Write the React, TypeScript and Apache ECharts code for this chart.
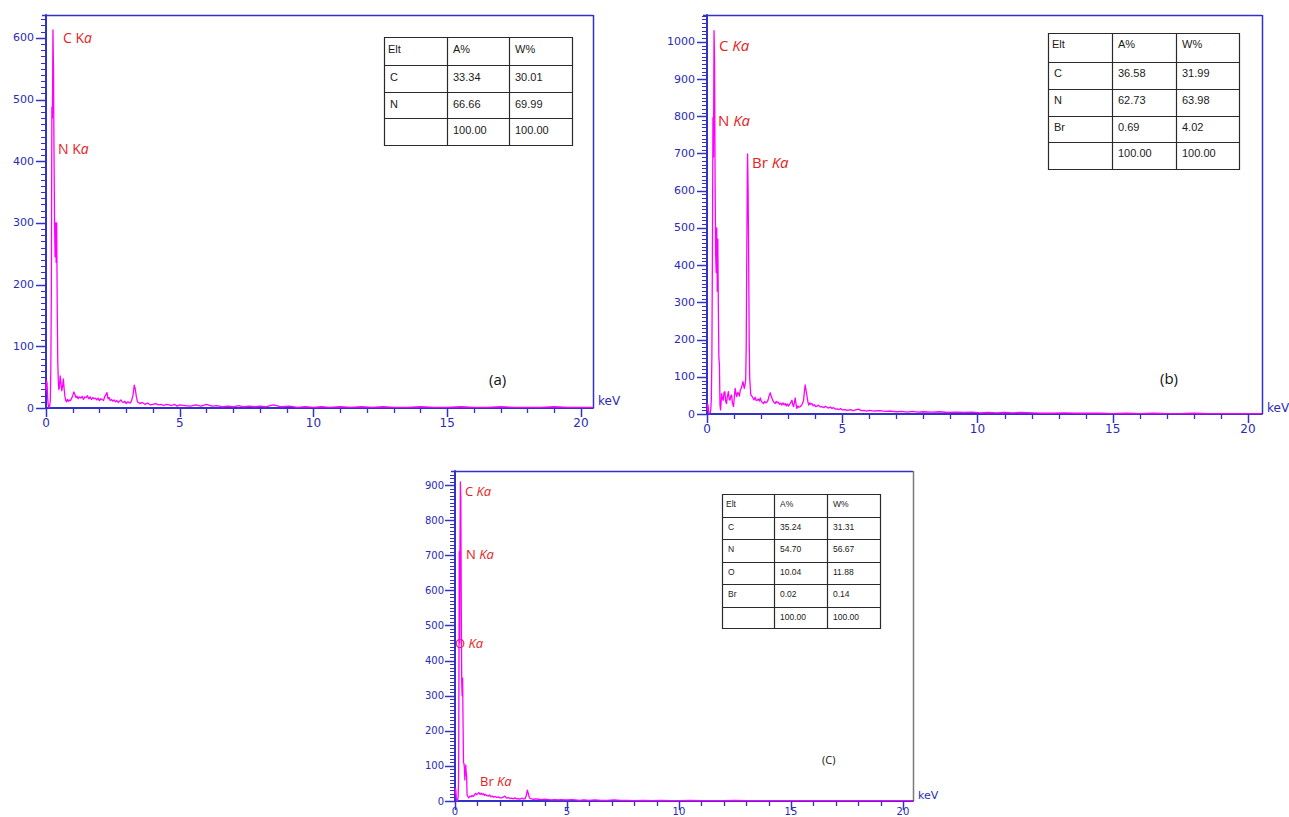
import React, { useEffect, useRef } from "react";
import * as echarts from "echarts";

// ---------- tick labels ----------
const xTickValues = [0, 5, 10, 15, 20];
const xMinorTicks = [1, 2, 3, 4, 6, 7, 8, 9, 11, 12, 13, 14, 16, 17, 18, 19];
const yTicksA = [0, 100, 200, 300, 400, 500, 600];
const yTicksB = [0, 100, 200, 300, 400, 500, 600, 700, 800, 900, 1000];
const yTicksC = [0, 100, 200, 300, 400, 500, 600, 700, 800, 900];

// ---------- spectra [keV, counts] ----------
const spectrumA: [number, number][] = [
  [0.0, 28], [0.02, 44], [0.04, 40], [0.06, 18], [0.08, 6], [0.1, 2], [0.12, 1], [0.14, 4], [0.16, 12], [0.18, 60],
  [0.2, 190], [0.22, 488], [0.24, 470], [0.26, 613], [0.28, 548], [0.3, 410], [0.32, 300], [0.34, 245], [0.36, 300], [0.38, 236],
  [0.4, 300], [0.42, 160], [0.44, 75], [0.46, 45], [0.48, 30], [0.5, 33], [0.53, 52], [0.56, 40], [0.59, 28], [0.62, 35],
  [0.65, 47], [0.68, 30], [0.71, 18], [0.74, 12], [0.77, 10], [0.8, 14], [0.84, 11], [0.88, 13], [0.92, 12], [0.96, 16],
  [1.0, 20], [1.04, 26], [1.08, 22], [1.12, 17], [1.16, 19], [1.2, 15], [1.25, 18], [1.3, 16], [1.35, 19], [1.4, 14],
  [1.45, 18], [1.5, 17], [1.55, 20], [1.6, 15], [1.65, 18], [1.7, 14], [1.75, 17], [1.8, 15], [1.85, 16], [1.9, 13],
  [1.95, 16], [2.0, 12], [2.05, 15], [2.1, 14], [2.15, 12], [2.2, 19], [2.25, 22], [2.28, 25], [2.32, 15], [2.36, 17],
  [2.4, 12], [2.45, 14], [2.5, 11], [2.55, 13], [2.6, 10], [2.65, 12], [2.7, 9], [2.75, 11], [2.8, 13], [2.85, 10],
  [2.9, 9], [2.95, 11], [3.0, 7], [3.05, 10], [3.1, 9], [3.15, 8], [3.2, 12], [3.25, 20], [3.3, 37], [3.34, 30],
  [3.38, 18], [3.42, 10], [3.46, 9], [3.5, 7], [3.6, 9], [3.7, 6], [3.8, 8], [3.9, 5], [4.0, 6], [4.1, 7],
  [4.2, 5], [4.3, 6], [4.4, 4], [4.5, 6], [4.6, 5], [4.7, 4], [4.8, 6], [4.9, 3], [5.0, 5], [5.2, 4],
  [5.4, 3], [5.6, 5], [5.8, 3], [6.0, 6], [6.2, 3], [6.4, 4], [6.6, 2], [6.8, 3], [7.0, 2], [7.2, 4],
  [7.4, 2], [7.6, 3], [7.8, 2], [8.0, 3], [8.2, 2], [8.5, 5], [8.8, 2], [9.1, 3], [9.4, 1], [9.7, 2],
  [10.0, 1], [10.3, 2], [10.6, 1], [11.0, 2], [11.4, 1], [11.8, 2], [12.2, 1], [12.6, 2], [13.0, 1], [13.5, 1],
  [14.0, 2], [14.5, 1], [15.0, 1], [15.5, 2], [16.0, 1], [16.5, 1], [17.0, 2], [17.5, 1], [18.0, 1], [18.5, 1],
  [19.0, 2], [19.5, 1], [20.0, 1], [20.45, 1],
];

const spectrumB: [number, number][] = [
  [0.0, 8], [0.02, 27], [0.04, 22], [0.06, 5], [0.08, 1], [0.1, 2], [0.12, 4], [0.14, 12], [0.16, 40], [0.18, 150],
  [0.2, 420], [0.22, 796], [0.24, 690], [0.26, 1030], [0.28, 949], [0.3, 620], [0.32, 430], [0.34, 380], [0.36, 500], [0.38, 330],
  [0.4, 470], [0.42, 280], [0.44, 150], [0.46, 132], [0.48, 25], [0.5, 11], [0.52, 30], [0.54, 55], [0.57, 42], [0.6, 37],
  [0.63, 58], [0.66, 60], [0.69, 35], [0.72, 28], [0.75, 45], [0.79, 60], [0.82, 40], [0.85, 37], [0.88, 48], [0.91, 51],
  [0.94, 30], [0.98, 20], [1.01, 45], [1.04, 69], [1.07, 55], [1.1, 47], [1.14, 58], [1.17, 55], [1.2, 48], [1.23, 64],
  [1.27, 70], [1.3, 78], [1.33, 87], [1.36, 75], [1.38, 69], [1.41, 80], [1.43, 91], [1.45, 180], [1.47, 420], [1.49, 640],
  [1.5, 699], [1.52, 602], [1.54, 420], [1.56, 200], [1.58, 95], [1.6, 72], [1.62, 51], [1.66, 48], [1.7, 43], [1.74, 38],
  [1.78, 45], [1.82, 36], [1.85, 37], [1.9, 40], [1.94, 35], [1.97, 43], [2.01, 34], [2.05, 31], [2.09, 28], [2.13, 34],
  [2.17, 30], [2.22, 32], [2.26, 38], [2.3, 50], [2.34, 57], [2.37, 48], [2.4, 43], [2.44, 35], [2.48, 31], [2.52, 28],
  [2.56, 34], [2.6, 30], [2.64, 32], [2.68, 26], [2.72, 29], [2.77, 24], [2.81, 30], [2.85, 25], [2.89, 28], [2.93, 22],
  [2.97, 27], [3.01, 21], [3.05, 26], [3.09, 30], [3.14, 37], [3.17, 25], [3.2, 20], [3.23, 30], [3.26, 43], [3.29, 28],
  [3.32, 15], [3.36, 22], [3.4, 18], [3.45, 20], [3.5, 24], [3.54, 30], [3.57, 37], [3.6, 60], [3.63, 78], [3.66, 65],
  [3.7, 47], [3.73, 33], [3.76, 24], [3.8, 30], [3.84, 26], [3.88, 28], [3.93, 22], [3.97, 25], [4.02, 20], [4.06, 21],
  [4.12, 24], [4.18, 19], [4.25, 20], [4.32, 17], [4.38, 21], [4.44, 18], [4.5, 16], [4.56, 19], [4.62, 15], [4.68, 17],
  [4.75, 13], [4.81, 14], [4.88, 12], [4.94, 15], [5.0, 11], [5.1, 12], [5.2, 10], [5.3, 12], [5.4, 9], [5.5, 11],
  [5.6, 13], [5.7, 9], [5.8, 10], [5.9, 8], [6.0, 10], [6.2, 8], [6.4, 9], [6.6, 7], [6.8, 8], [7.0, 6],
  [7.2, 7], [7.4, 5], [7.6, 7], [7.8, 5], [8.0, 6], [8.3, 5], [8.6, 6], [8.9, 4], [9.2, 5], [9.5, 4],
  [9.8, 5], [10.1, 3], [10.4, 4], [10.7, 3], [11.0, 4], [11.3, 3], [11.6, 4], [12.0, 3], [12.4, 2], [12.8, 2],
  [13.2, 3], [13.6, 2], [14.0, 2], [14.5, 2], [15.0, 1], [15.5, 2], [16.0, 1], [16.5, 2], [17.0, 1], [17.5, 1],
  [18.0, 2], [18.5, 1], [19.0, 1], [19.5, 1], [20.0, 1], [20.5, 1],
];

const spectrumC: [number, number][] = [
  [0.0, 20], [0.02, 36], [0.04, 30], [0.06, 8], [0.08, 2], [0.1, 0], [0.12, 3], [0.14, 10], [0.16, 60], [0.17, 200],
  [0.18, 454], [0.19, 710], [0.2, 600], [0.21, 450], [0.22, 700], [0.24, 909], [0.26, 862], [0.28, 560], [0.3, 340], [0.32, 300],
  [0.34, 350], [0.36, 220], [0.38, 110], [0.4, 107], [0.42, 94], [0.44, 60], [0.46, 90], [0.48, 102], [0.5, 80], [0.52, 69],
  [0.54, 17], [0.58, 12], [0.61, 9], [0.66, 14], [0.71, 12], [0.76, 16], [0.81, 13], [0.87, 17], [0.92, 22], [0.97, 18],
  [1.02, 21], [1.07, 24], [1.12, 19], [1.17, 22], [1.22, 18], [1.27, 21], [1.32, 16], [1.37, 19], [1.42, 15], [1.49, 14],
  [1.55, 17], [1.6, 12], [1.65, 14], [1.72, 11], [1.79, 13], [1.86, 10], [1.93, 12], [2.0, 9], [2.08, 9], [2.15, 11],
  [2.23, 14], [2.3, 8], [2.38, 10], [2.45, 7], [2.53, 8], [2.6, 6], [2.68, 9], [2.75, 6], [2.83, 7], [2.9, 5],
  [2.98, 8], [3.05, 6], [3.12, 6], [3.18, 14], [3.23, 31], [3.27, 22], [3.31, 12], [3.36, 7], [3.42, 6], [3.5, 5],
  [3.6, 6], [3.72, 5], [3.85, 4], [4.0, 5], [4.17, 4], [4.3, 3], [4.45, 4], [4.6, 3], [4.76, 4], [4.9, 3],
  [5.05, 3], [5.2, 4], [5.36, 3], [5.55, 2], [5.75, 3], [6.0, 2], [6.25, 3], [6.5, 2], [6.8, 2], [7.1, 3],
  [7.4, 2], [7.7, 2], [8.0, 1], [8.4, 2], [8.8, 1], [9.2, 2], [9.6, 1], [10.0, 1], [10.5, 2], [11.0, 1],
  [11.5, 1], [12.0, 1], [12.5, 2], [13.0, 1], [13.5, 1], [14.0, 1], [15.0, 1], [16.0, 1], [17.0, 1], [18.0, 1],
  [19.0, 1], [20.0, 1], [20.45, 1],
];

// ---------- composition tables ----------
const tableHeader = ["Elt", "A%", "W%"];
const tableRowsA = [["C", "33.34", "30.01"], ["N", "66.66", "69.99"], ["", "100.00", "100.00"]];
const tableRowsB = [["C", "36.58", "31.99"], ["N", "62.73", "63.98"], ["Br", "0.69", "4.02"], ["", "100.00", "100.00"]];
const tableRowsC = [["C", "35.24", "31.31"], ["N", "54.70", "56.67"], ["O", "10.04", "11.88"], ["Br", "0.02", "0.14"], ["", "100.00", "100.00"]];

// ---------- styles / layout ----------
const AXIS_BLUE = "#3232c6";
const LABEL_BLUE = "#2a2ab4";
const MAGENTA = "#ff00ff";
const RED = "#e52222";
const FONT = "DejaVu Sans";
const TABLE_FONT = "Liberation Sans";
const ANNOT_FONT = "Open Sans";

const panels = [
  { left: 46, top: 15, width: 547, height: 393, xMax: 20.45, yMax: 637, yTicks: yTicksA, data: spectrumA, yLabelSize: 11, xLabelSize: 12, xMargin: 9, yMargin: 12, frame: AXIS_BLUE, rightFrame: AXIS_BLUE },
  { left: 707, top: 15, width: 555, height: 399, xMax: 20.52, yMax: 1072, yTicks: yTicksB, data: spectrumB, yLabelSize: 11, xLabelSize: 12, xMargin: 9, yMargin: 12, frame: AXIS_BLUE, rightFrame: AXIS_BLUE },
  { left: 455, top: 471, width: 458, height: 330, xMax: 20.45, yMax: 940, yTicks: yTicksC, data: spectrumC, yLabelSize: 10, xLabelSize: 10, xMargin: 5, yMargin: 11, frame: AXIS_BLUE, rightFrame: "#7a7a7a" },
];

// minor y tick positions every 10 counts (axis decoration only)
function minorY(max: number, majors: number[]): number[] {
  const out: number[] = [];
  for (let v = 10; v < max; v += 10) if (majors.indexOf(v) < 0) out.push(v);
  return out;
}

function tableElements(cols: number[], rows: number[], cells: string[][], fontSize: number, padX: number, padY: number) {
  const els: any[] = [];
  const stroke = "#2a2a2a";
  els.push({
    type: "rect",
    shape: { x: cols[0] + 0.5, y: rows[0] + 0.5, width: cols[cols.length - 1] - cols[0], height: rows[rows.length - 1] - rows[0] },
    style: { fill: "#ffffff", stroke, lineWidth: 1.2 },
  });
  for (let i = 1; i < cols.length - 1; i++) {
    els.push({ type: "line", shape: { x1: cols[i] + 0.5, y1: rows[0], x2: cols[i] + 0.5, y2: rows[rows.length - 1] }, style: { stroke, lineWidth: 1.2 } });
  }
  for (let j = 1; j < rows.length - 1; j++) {
    els.push({ type: "line", shape: { x1: cols[0], y1: rows[j] + 0.5, x2: cols[cols.length - 1], y2: rows[j] + 0.5 }, style: { stroke, lineWidth: 1.2 } });
  }
  cells.forEach((row, r) => {
    row.forEach((txt, c) => {
      if (!txt) return;
      els.push({
        type: "text",
        x: cols[c] + (c === 0 && r === 0 ? padX - 2 : padX),
        y: rows[r] + padY,
        style: { text: txt, fill: "#1a1a1a", fontSize, fontFamily: TABLE_FONT, align: "left", verticalAlign: "top", textAlign: "left", textVerticalAlign: "top" },
      });
    });
  });
  return els;
}

function annot(x: number, y: number, text: string, size: number) {
  return {
    type: "text",
    x,
    y,
    style: {
      text,
      fill: RED,
      fontSize: size,
      fontFamily: ANNOT_FONT,
      align: "left",
      verticalAlign: "middle",
      textAlign: "left",
      textVerticalAlign: "middle",
      rich: { i: { fontStyle: "italic", fontSize: size, fontFamily: ANNOT_FONT, fill: RED } },
    },
  };
}

function plain(x: number, y: number, text: string, size: number, color: string, family: string) {
  return {
    type: "text",
    x,
    y,
    style: { text, fill: color, fontSize: size, fontFamily: family, align: "left", verticalAlign: "middle", textAlign: "left", textVerticalAlign: "middle" },
  };
}

export default function App() {
  const ref = useRef<HTMLDivElement>(null);
  useEffect(() => {
    if (!ref.current) return;
    const chart = echarts.init(ref.current, undefined, { renderer: "svg" });

    const grid: any[] = [];
    const xAxis: any[] = [];
    const yAxis: any[] = [];
    const series: any[] = [];
    const fmt = (v: number) => String(Math.round(v));

    panels.forEach((p, i) => {
      grid.push({ left: p.left, top: p.top, width: p.width, height: p.height, show: false, containLabel: false, outerBoundsMode: "none" });
      xAxis.push({
        type: "value", gridIndex: i, position: "bottom", min: 0, max: p.xMax,
        axisLine: { show: true, onZero: false, lineStyle: { color: AXIS_BLUE, width: 2 } },
        axisTick: { show: false },
        axisLabel: { show: true, customValues: xTickValues, formatter: fmt, color: LABEL_BLUE, fontSize: p.xLabelSize, fontFamily: FONT, margin: p.xMargin },
        splitLine: { show: false },
      });
      yAxis.push({
        type: "value", gridIndex: i, position: "left", min: 0, max: p.yMax,
        axisLine: { show: true, onZero: false, lineStyle: { color: AXIS_BLUE, width: 2 } },
        axisTick: { show: false },
        axisLabel: { show: true, customValues: p.yTicks, formatter: fmt, color: LABEL_BLUE, fontSize: p.yLabelSize, fontFamily: FONT, margin: p.yMargin },
        splitLine: { show: false },
      });
      series.push({
        type: "line", xAxisIndex: i, yAxisIndex: i, data: p.data, showSymbol: false, symbol: "none",
        lineStyle: { color: MAGENTA, width: 1.3, join: "round" }, itemStyle: { color: MAGENTA }, clip: true, silent: true, z: 3,
      });
    });

    const frames: any[] = [];
    panels.forEach((p) => {
      frames.push({ type: "line", shape: { x1: p.left - 4, y1: p.top + 0.5, x2: p.left + p.width, y2: p.top + 0.5 }, style: { stroke: p.frame, lineWidth: 1.5 } });
      frames.push({ type: "line", shape: { x1: p.left + p.width + 0.5, y1: p.top, x2: p.left + p.width + 0.5, y2: p.top + p.height }, style: { stroke: p.rightFrame, lineWidth: 1.5 } });
    });

    const graphicEls: any[] = [
      ...frames,
      annot(63, 37, "C K{i|a}", 14),
      annot(58, 148, "N K{i|a}", 14),
      annot(719, 45, "C {i|Ka}", 15),
      annot(718, 120, "N {i|Ka}", 15),
      annot(752, 162, "Br {i|Ka}", 15),
      annot(465, 491, "C {i|Ka}", 13),
      annot(466, 554, "N {i|Ka}", 13),
      annot(455, 643, "O {i|Ka}", 13),
      annot(480, 781, "Br {i|Ka}", 13),
      plain(489, 379, "(a)", 15, "#111", ANNOT_FONT),
      plain(1160, 378, "(b)", 15, "#111", ANNOT_FONT),
      plain(822, 759, "(C)", 11, "#111", ANNOT_FONT),
      plain(598, 401, "keV", 12, LABEL_BLUE, FONT),
      plain(1267, 408, "keV", 12, LABEL_BLUE, FONT),
      plain(918, 795, "keV", 11, LABEL_BLUE, FONT),
      ...tableElements([384, 447, 509, 572], [37, 65, 92, 118, 145], [tableHeader, ...tableRowsA], 11, 6, 6),
      ...tableElements([1048, 1112, 1176, 1239], [33, 62, 89, 116, 142, 169], [tableHeader, ...tableRowsB], 11, 6, 5),
      ...tableElements([722, 774, 827, 880], [494, 517, 539, 562, 584, 607, 628], [tableHeader, ...tableRowsC], 8.5, 6, 5),
    ];

    chart.setOption({
      animation: false,
      backgroundColor: "#ffffff",
      grid,
      xAxis,
      yAxis,
      series,
      graphic: { elements: graphicEls },
    });

    // axis ticks, positioned through each grid's scales
    const tickEls: any[] = [];
    panels.forEach((p, i) => {
      const at = (x: number, y: number) => chart.convertToPixel({ gridIndex: i } as any, [x, y]) as number[];
      const tick = (x1: number, y1: number, x2: number, y2: number, w: number) =>
        tickEls.push({ type: "line", silent: true, z: 10, shape: { x1, y1, x2, y2 }, style: { stroke: AXIS_BLUE, lineWidth: w } });
      xTickValues.forEach((v) => {
        const pt = at(v, 0);
        if (pt) tick(Math.round(pt[0]) + 0.5, pt[1], Math.round(pt[0]) + 0.5, pt[1] + 9, 1.5);
      });
      xMinorTicks.forEach((v) => {
        const pt = at(v, 0);
        if (pt) tick(Math.round(pt[0]) + 0.5, pt[1], Math.round(pt[0]) + 0.5, pt[1] + 5, 1.3);
      });
      p.yTicks.forEach((v) => {
        const pt = at(0, v);
        if (pt) tick(pt[0], Math.round(pt[1]) + 0.5, pt[0] - 10, Math.round(pt[1]) + 0.5, 1.5);
      });
      minorY(p.yMax, p.yTicks).forEach((v) => {
        const pt = at(0, v);
        if (pt) tick(pt[0], Math.round(pt[1]) + 0.5, pt[0] - 5, Math.round(pt[1]) + 0.5, 1);
      });
    });
    chart.setOption({ graphic: { elements: [...graphicEls, ...tickEls] } });

    return () => chart.dispose();
  }, []);

  return <div ref={ref} style={{ position: "fixed", left: 0, top: 0, width: 1289, height: 817, background: "#fff" }} />;
}
